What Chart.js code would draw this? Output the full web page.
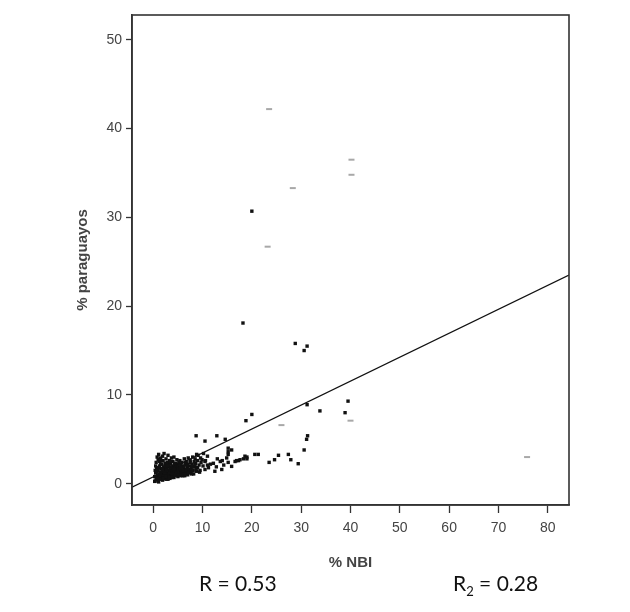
<!DOCTYPE html>
<html lang="es">
<head>
    <meta charset="UTF-8">
    <title>% paraguayos vs % NBI</title>
    <script src="https://cdn.jsdelivr.net/npm/chart.js"></script>
    <style>
        body {
            margin: 0;
            background: #fff;
        }
        #wrap {
            position: relative;
            width: 630px;
            height: 612px;
        }
        .stat {
            position: absolute;
            font-family: Lato, "Open Sans", sans-serif;
            font-size: 21px;
            line-height: 21px;
            color: #111;
            white-space: nowrap;
        }
        .stat sub {
            font-size: 13px;
            vertical-align: -5px;
            line-height: 0;
        }
    </style>
</head>
<body>
<div id="wrap">
    <canvas id="scatterChart" width="630" height="612"></canvas>
    <div class="stat" style="left:199px; top:572px;">R = 0.53</div>
    <div class="stat" style="left:453px; top:572px;">R<sub>2</sub> = 0.28</div>
</div>
<script>
    // dense cluster of departments (% NBI, % paraguayos)
    const clusterX = [
        0.4, 0.8, 1.1, 1.5, 1.9, 2.3, 2.6, 3.0, 3.4, 3.8, 4.2, 4.6, 5.0, 5.5, 6.0, 6.5, 7.0, 7.6, 8.2, 8.8, 9.5, 0.3,
        0.5, 0.7, 0.9, 1.0, 1.2, 1.3, 1.4, 1.6, 1.7, 1.8, 2.0, 2.1, 2.2, 2.4, 2.5, 2.7, 2.8, 2.9, 3.1, 3.2, 3.3, 3.5,
        3.6, 3.7, 3.9, 4.0, 4.1, 4.3, 4.4, 4.5, 4.7, 4.8, 4.9, 5.1, 5.2, 5.3, 5.6, 5.7, 5.9, 6.1, 6.2, 6.4, 6.6, 6.8,
        6.9, 7.2, 7.4, 7.7, 7.9, 8.1, 8.4, 8.6, 9.0, 9.3, 9.7, 10.1,
        0.6, 0.8, 1.0, 1.1, 1.3, 1.5, 1.7, 1.9, 2.0, 2.2, 2.4, 2.6, 2.9, 3.0, 3.3, 3.5, 3.7, 4.0, 4.2, 4.5, 4.8, 5.0,
        5.4, 5.8, 6.3, 6.7, 7.1, 7.5, 8.0, 8.5, 9.1, 9.6, 10.2, 10.6, 11.0,
        1.2, 1.6, 2.1, 2.5, 2.9, 3.2, 3.6, 4.0, 4.4, 4.9, 5.3, 5.8, 6.3, 6.7, 7.3, 7.8, 1.0, 1.8, 2.3, 2.7, 3.4, 3.9,
        4.6, 5.1, 5.6, 6.0, 0.3, 0.6, 0.4, 0.5, 1.4, 2.2, 3.0,
        0.7, 1.1, 1.5, 1.9, 2.4, 2.8, 3.1, 3.5, 3.9, 4.3, 4.7, 5.2, 5.6, 6.1, 6.5, 7.0, 7.5, 8.0, 8.5, 9.0,
        0.9, 1.4, 2.0, 2.6, 3.2, 3.8, 4.4, 5.0, 5.7, 6.4, 7.1, 7.8, 8.7, 9.4, 1.6, 2.9, 4.1, 5.5, 6.9, 8.3,
        10.5, 11.2, 11.6, 12.2, 12.8, 13.6, 13.9, 14.3, 14.9, 15.2, 15.2, 15.9, 15.9, 15.2, 15.2, 16.6, 17.3, 18.6,
        19.0, 10.5, 9.9, 8.8, 11.0, 12.5, 13.0, 14.0,
        16.9, 17.6, 18.3, 19.0, 20.6, 21.3, 23.5, 24.6, 25.4, 27.4, 27.9, 29.4, 30.6, 31.1, 31.3,
        31.2, 33.8, 20.0, 18.8, 8.7, 10.5, 12.9, 14.6, 39.5, 38.9,
        20.0, 18.2, 28.8, 31.2, 30.6
    ];
    const clusterY = [
        0.3, 0.5, 0.2, 0.6, 0.4, 0.7, 0.5, 0.8, 0.6, 0.9, 0.7, 1.0, 0.8, 1.1, 0.9, 1.2, 1.0, 1.3, 1.1, 1.4, 1.5, 0.26,
        1.2, 1.8, 0.9, 1.5, 1.1, 2.0, 1.3, 1.7, 0.9, 1.4, 1.1, 1.9, 1.3, 1.6, 1.0, 1.8, 1.2, 1.5, 1.1, 1.9, 1.4, 1.7,
        1.0, 1.3, 1.6, 1.2, 2.0, 1.4, 1.1, 1.8, 1.3, 1.6, 1.0, 1.5, 1.9, 1.2, 1.6, 1.4, 2.0, 1.3, 1.7, 1.5, 2.1, 1.4,
        1.8, 1.6, 2.0, 1.7, 2.2, 1.5, 1.9, 2.3, 1.8, 2.1, 2.4, 2.0,
        2.4, 3.0, 2.7, 3.3, 2.5, 2.9, 2.2, 3.1, 2.6, 3.4, 2.3, 2.8, 2.4, 3.2, 2.6, 2.2, 2.9, 2.5, 3.0, 2.3, 2.7, 2.2,
        2.6, 2.4, 2.8, 2.5, 2.9, 2.6, 3.0, 2.8, 3.2, 2.9, 3.4, 2.6, 3.1,
        0.7, 1.0, 0.8, 1.3, 0.9, 1.2, 0.8, 1.0, 1.5, 1.3, 1.0, 1.2, 1.1, 1.6, 1.3, 1.5, 1.0, 1.7, 1.2, 1.5, 1.8, 1.1,
        1.2, 1.7, 0.9, 1.5, 0.8, 0.6, 1.5, 2.0, 0.5, 0.6, 0.5,
        1.4, 1.8, 2.2, 1.6, 2.0, 2.3, 2.1, 2.5, 1.9, 2.2, 2.0, 2.4, 2.1, 1.9, 2.3, 2.2, 2.4, 1.9, 2.2, 2.6,
        0.6, 0.9, 0.6, 0.8, 0.7, 0.7, 0.9, 1.0, 1.0, 0.9, 1.2, 1.1, 1.6, 1.3, 2.6, 2.0, 1.7, 1.8, 2.0, 2.5,
        1.6, 1.8, 2.2, 2.3, 1.9, 2.5, 1.6, 2.1, 2.9, 2.4, 3.3, 1.95, 3.8, 4.0, 3.6, 2.5, 2.6, 3.1,
        2.8, 2.5, 2.7, 3.3, 2.1, 1.4, 2.8, 2.6,
        2.6, 2.7, 2.8, 3.0, 3.3, 3.3, 2.4, 2.7, 3.2, 3.3, 2.7, 2.25, 3.8, 5.0, 5.4,
        8.9, 8.2, 7.8, 7.1, 5.4, 4.8, 5.4, 5.0, 9.3, 8.0,
        30.7, 18.1, 15.8, 15.5, 15.0
    ];

    // pale, washed-out points in the reference
    const paleX = [23.5, 40.2, 40.2, 28.3, 23.2, 26.0, 40.0, 75.8];
    const paleY = [42.2, 36.5, 34.8, 33.3, 26.7, 6.6, 7.1, 3.0];

    // fitted line, end points at the plot edges
    const fitX = [-4.3, 84.3];
    const fitY = [-0.4, 23.5];

    const xTicks = [0, 10, 20, 30, 40, 50, 60, 70, 80];
    const yTicks = [0, 10, 20, 30, 40, 50];

    const toPoints = (xs, ys) => xs.map((x, i) => ({ x: x, y: ys[i] }));

    // box round the plot area
    const frame = {
        id: 'frame',
        afterDraw(chart) {
            const a = chart.chartArea;
            const ctx = chart.ctx;
            ctx.save();
            ctx.strokeStyle = '#333';
            ctx.lineWidth = 1.6;
            ctx.strokeRect(a.left, a.top, a.right - a.left, a.bottom - a.top);
            ctx.restore();
        }
    };

    const tickFont = { family: 'Liberation Sans, Arial, sans-serif', size: 14 };
    const titleFont = { family: 'Liberation Sans, Arial, sans-serif', size: 15, weight: 'bold' };

    new Chart(document.getElementById('scatterChart'), {
        type: 'scatter',
        data: {
            datasets: [
                {
                    type: 'line',
                    data: toPoints(fitX, fitY),
                    borderColor: '#111',
                    borderWidth: 1.3,
                    pointRadius: 0,
                    fill: false
                },
                {
                    data: toPoints(paleX, paleY),
                    pointStyle: 'line',
                    pointRadius: 3,
                    borderWidth: 2,
                    borderColor: 'rgba(110,110,110,0.6)',
                    backgroundColor: 'rgba(110,110,110,0.6)'
                },
                {
                    data: toPoints(clusterX, clusterY),
                    pointStyle: 'rect',
                    pointRadius: 2.4,
                    borderWidth: 0,
                    backgroundColor: '#111',
                    borderColor: '#111'
                }
            ]
        },
        options: {
            responsive: false,
            animation: false,
            layout: { padding: { top: 15, right: 61, left: 0, bottom: 0 } },
            plugins: {
                legend: { display: false },
                tooltip: { enabled: false }
            },
            scales: {
                x: {
                    type: 'linear',
                    min: -4.3,
                    max: 84.3,
                    afterFit: s => { s.height = 107; },
                    afterBuildTicks: s => { s.ticks = xTicks.map(v => ({ value: v })); },
                    grid: { drawOnChartArea: false, tickLength: 8, color: '#333', tickWidth: 1.3 },
                    border: { display: true, color: '#333', width: 1.6 },
                    ticks: { color: '#444', font: tickFont, padding: 7, maxRotation: 0 },
                    title: { display: true, text: '% NBI', color: '#444', font: titleFont, padding: { top: 0, bottom: 40 } }
                },
                y: {
                    type: 'linear',
                    min: -2.4,
                    max: 52.8,
                    afterFit: s => { s.width = 132; },
                    afterBuildTicks: s => { s.ticks = yTicks.map(v => ({ value: v })); },
                    grid: { drawOnChartArea: false, tickLength: 6, color: '#333', tickWidth: 1.3 },
                    border: { display: true, color: '#333', width: 1.6 },
                    ticks: { color: '#444', font: tickFont, padding: 4 },
                    title: { display: true, text: '% paraguayos', color: '#444', font: titleFont, padding: { top: 74, bottom: 0 } }
                }
            }
        },
        plugins: [frame]
    });
</script>
</body>
</html>
